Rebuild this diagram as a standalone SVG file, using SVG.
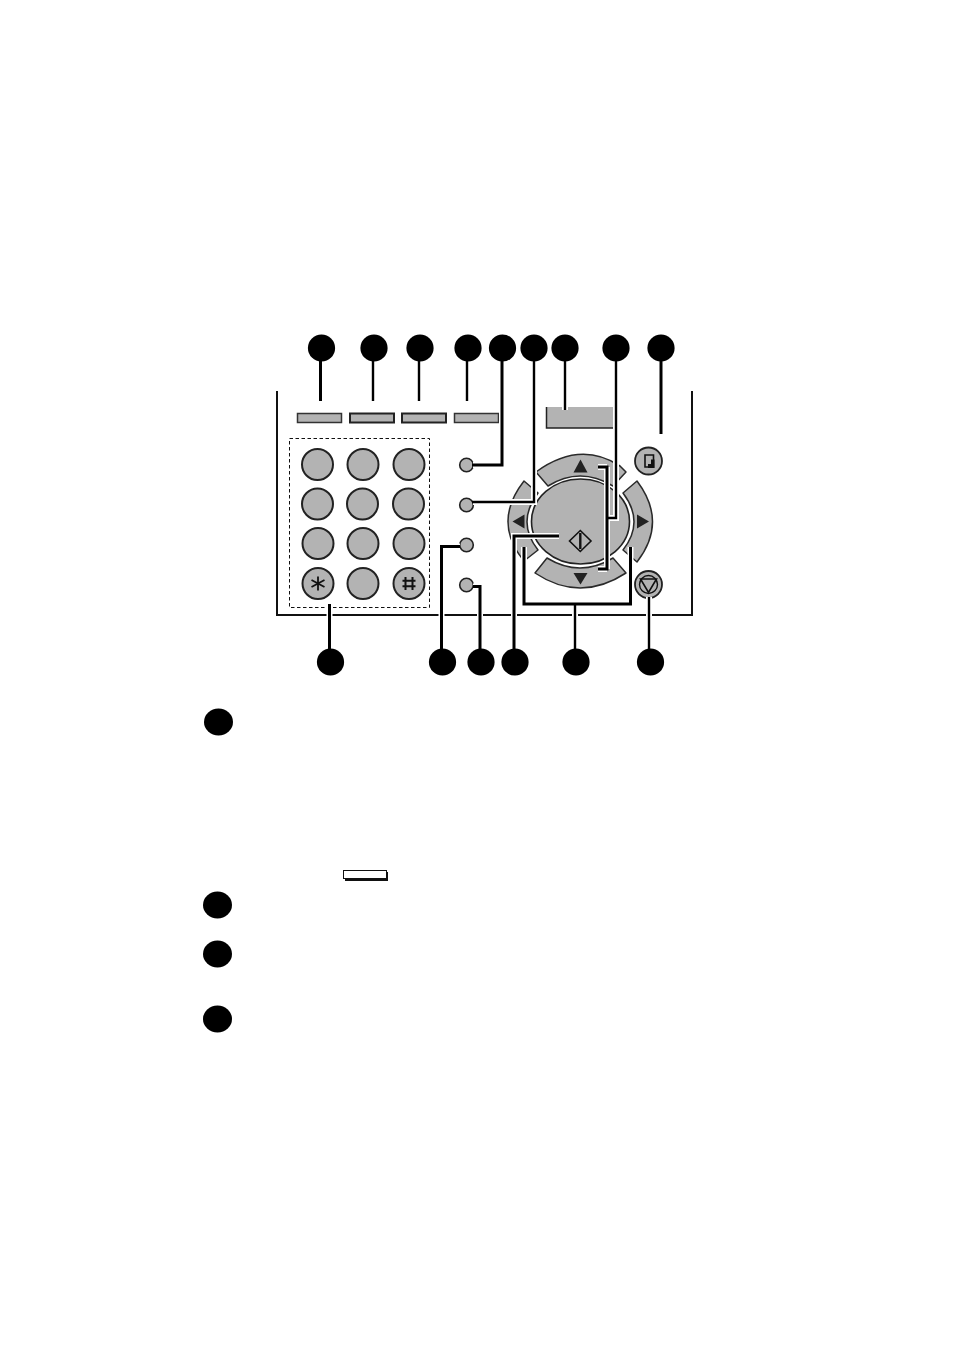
<svg xmlns="http://www.w3.org/2000/svg" width="954" height="1350" viewBox="0 0 954 1350">
<style>
.bg{fill:#fff}
.dot{fill:#000}
.key{fill:#b3b3b3;stroke:#222;stroke-width:2}
.small{fill:#b3b3b3;stroke:#222;stroke-width:1.6}
.arc{fill:#b3b3b3;stroke:#2a2a2a;stroke-width:1.5;stroke-linejoin:round}
.tri{fill:#222}
.halo{fill:none;stroke:#fff;stroke-width:6}
.wire{fill:none;stroke:#000;stroke-width:2.4}
.thick{stroke-width:3}
.frame{fill:none;stroke:#111;stroke-width:2}
.icon{fill:none;stroke:#111;stroke-width:1.6}
</style>
<defs>
<circle id="k" r="15.5" class="key"/>
<circle id="s" r="6.8" class="small"/>
<circle id="d" r="13.6" class="dot"/>
</defs>
<rect class="bg" width="954" height="1350"/>
<path id="panel-frame" class="frame" d="M277 391V615H692V391"/>
<g id="soft-keys">
<g id="soft-key-1"><rect x="297.5" y="413.5" width="44" height="9" fill="#b3b3b3" stroke="#333" stroke-width="1.5"/></g>
<g id="soft-key-2"><rect x="350" y="413.5" width="44" height="9" fill="#b3b3b3" stroke="#222" stroke-width="2"/></g>
<g id="soft-key-3"><rect x="402" y="413.5" width="44" height="9" fill="#b3b3b3" stroke="#222" stroke-width="2"/></g>
<g id="soft-key-4"><rect x="454.5" y="413.5" width="44" height="9" fill="#b3b3b3" stroke="#333" stroke-width="1.5"/></g>
</g>
<g id="display"><rect x="546" y="407" width="67" height="21" fill="#b3b3b3"/><path d="M546.5 407V428H613" fill="none" stroke="#222" stroke-width="1.5"/></g>
<g id="keypad">
<rect x="289.5" y="438.5" width="140" height="169" fill="none" stroke="#111" stroke-width="1" stroke-dasharray="3.5 2.5"/>
<use href="#k" x="317.5" y="464.5"/><use href="#k" x="363" y="464.5"/><use href="#k" x="409" y="464.5"/>
<use href="#k" x="317.5" y="504"/><use href="#k" x="362.5" y="504"/><use href="#k" x="408.5" y="504"/>
<use href="#k" x="318" y="543.5"/><use href="#k" x="363" y="543.5"/><use href="#k" x="409" y="543.5"/>
<use href="#k" x="318" y="583.5"/><use href="#k" x="363" y="583.5"/><use href="#k" x="409" y="583.5"/>
<path d="M318 576.5V590.5M311.5 580L324.5 587M324.5 580L311.5 587" fill="none" stroke="#111" stroke-width="1.8"/>
<path d="M405.5 577V590M412.5 577V590M402.5 580.8H415.5M402.5 586.2H415.5" fill="none" stroke="#111" stroke-width="2"/>
</g>
<g id="small-buttons">
<g id="small-button-1"><use href="#s" x="466.5" y="465"/></g>
<g id="small-button-2"><use href="#s" x="466.5" y="505"/></g>
<g id="small-button-3"><use href="#s" x="466.5" y="545"/></g>
<g id="small-button-4"><use href="#s" x="466.5" y="585"/></g>
</g>
<g id="navigator">
<path id="nav-up" class="arc" d="M536 472Q580 440 620 466L626 472L613 486Q580 466 548 486Z"/>
<path id="nav-down" class="arc" d="M535 573L547 558Q580 578 613 558L626 573Q580 603 535 573Z"/>
<path id="nav-left" class="arc" d="M524 481L538 493Q516 522 538 550L524 561Q492 522 524 481Z"/>
<path id="nav-right" class="arc" d="M637 481Q668 522 637 562L623 550Q645 522 623 493Z"/>
<ellipse id="nav-centre" cx="580.5" cy="521.5" rx="49" ry="42.5" fill="#b3b3b3" stroke="#222" stroke-width="1.6"/>
<path class="tri" d="M573.5 472.5H587.5L580.5 459.5Z"/>
<path class="tri" d="M573.5 573H587.5L580.5 584.5Z"/>
<path class="tri" d="M637 514.5V528.5L649 521.5Z"/>
<path class="tri" d="M524.5 514.5V528.5L512.5 521.5Z"/>
<path d="M580.3 530.5L591 541L580.3 551.5L569.5 541Z" fill="none" stroke="#111" stroke-width="1.6"/>
<path d="M580.3 533V549" fill="none" stroke="#111" stroke-width="2.4"/>
</g>
<g id="copy-button">
<circle cx="648.5" cy="461" r="13.5" fill="#b3b3b3" stroke="#222" stroke-width="1.8"/>
<path d="M645 455H653.5V467H645Z" fill="none" stroke="#111" stroke-width="1.6"/>
<path d="M648 464H651V459.5H654.5V468H648Z" fill="#111"/>
</g>
<g id="stop-button">
<circle cx="648.5" cy="584.5" r="13.5" fill="#b3b3b3" stroke="#222" stroke-width="1.8"/>
<circle cx="648.5" cy="584.5" r="9" fill="none" stroke="#111" stroke-width="1.4"/>
<path class="icon" d="M640.5 579H656.5L648.5 592.5Z"/>
</g>
<g id="connectors">
<path class="halo" d="M329.5 604V650M441.5 650V546.5H460M480 650V586.5H473M514 650V536H559M575 650V604M524 604H630.5M524 604V547M630.5 604V547M649 650V597M502 361V465H473M534 361V502H473M616 361V518H607M607 467V569M598 467H607M598 569H607M565 361V410"/>
<path class="wire thick" d="M320.5 361V401"/>
<path class="wire" d="M373 361V401M419 361V401M467 361V401"/>
<path class="wire thick" d="M502 361V465H472"/>
<path class="wire" d="M534 361V502H472"/>
<path class="wire" d="M565 361V410"/>
<path class="wire" d="M616 361V518H607"/>
<path class="wire thick" d="M598 467H607V569H598"/>
<path class="wire thick" d="M661 361V434"/>
<path class="wire thick" d="M329.5 650V604"/>
<path class="wire thick" d="M441.5 650V546.5H460"/>
<path class="wire thick" d="M480 650V586.5H473"/>
<path class="wire thick" d="M514 650V536H559"/>
<path class="wire" d="M575 650V604"/>
<path class="wire thick" d="M524 547V604H630.5V547"/>
<path class="wire" d="M649 650V597"/>
</g>
<g id="callouts-top">
<g id="c1"><use href="#d" x="321.5" y="348"/></g>
<g id="c2"><use href="#d" x="374" y="348"/></g>
<g id="c3"><use href="#d" x="420" y="348"/></g>
<g id="c4"><use href="#d" x="468" y="348"/></g>
<g id="c5"><use href="#d" x="502.5" y="348"/></g>
<g id="c6"><use href="#d" x="534" y="348"/></g>
<g id="c7"><use href="#d" x="565" y="348"/></g>
<g id="c8"><use href="#d" x="616" y="348"/></g>
<g id="c9"><use href="#d" x="661" y="348"/></g>
</g>
<g id="callouts-bottom">
<g id="c10"><use href="#d" x="330.5" y="662"/></g>
<g id="c11"><use href="#d" x="442.5" y="662"/></g>
<g id="c12"><use href="#d" x="481" y="662"/></g>
<g id="c13"><use href="#d" x="515" y="662"/></g>
<g id="c14"><use href="#d" x="576" y="662"/></g>
<g id="c15"><use href="#d" x="650.5" y="662"/></g>
</g>
<g id="legend">
<g id="l1"><ellipse cx="218.5" cy="722" rx="14.5" ry="13.5" class="dot"/></g>
<g id="l2"><ellipse cx="217.5" cy="905" rx="14.5" ry="13.5" class="dot"/></g>
<g id="l3"><ellipse cx="217.5" cy="954" rx="14.5" ry="13.5" class="dot"/></g>
<g id="l4"><ellipse cx="217.5" cy="1019" rx="14.5" ry="13.5" class="dot"/></g>
<g id="legend-key"><rect x="345" y="872" width="43" height="9" fill="#111"/><rect x="343.5" y="870.5" width="43" height="8" fill="#fff" stroke="#111" stroke-width="1"/></g>
</g>
</svg>
